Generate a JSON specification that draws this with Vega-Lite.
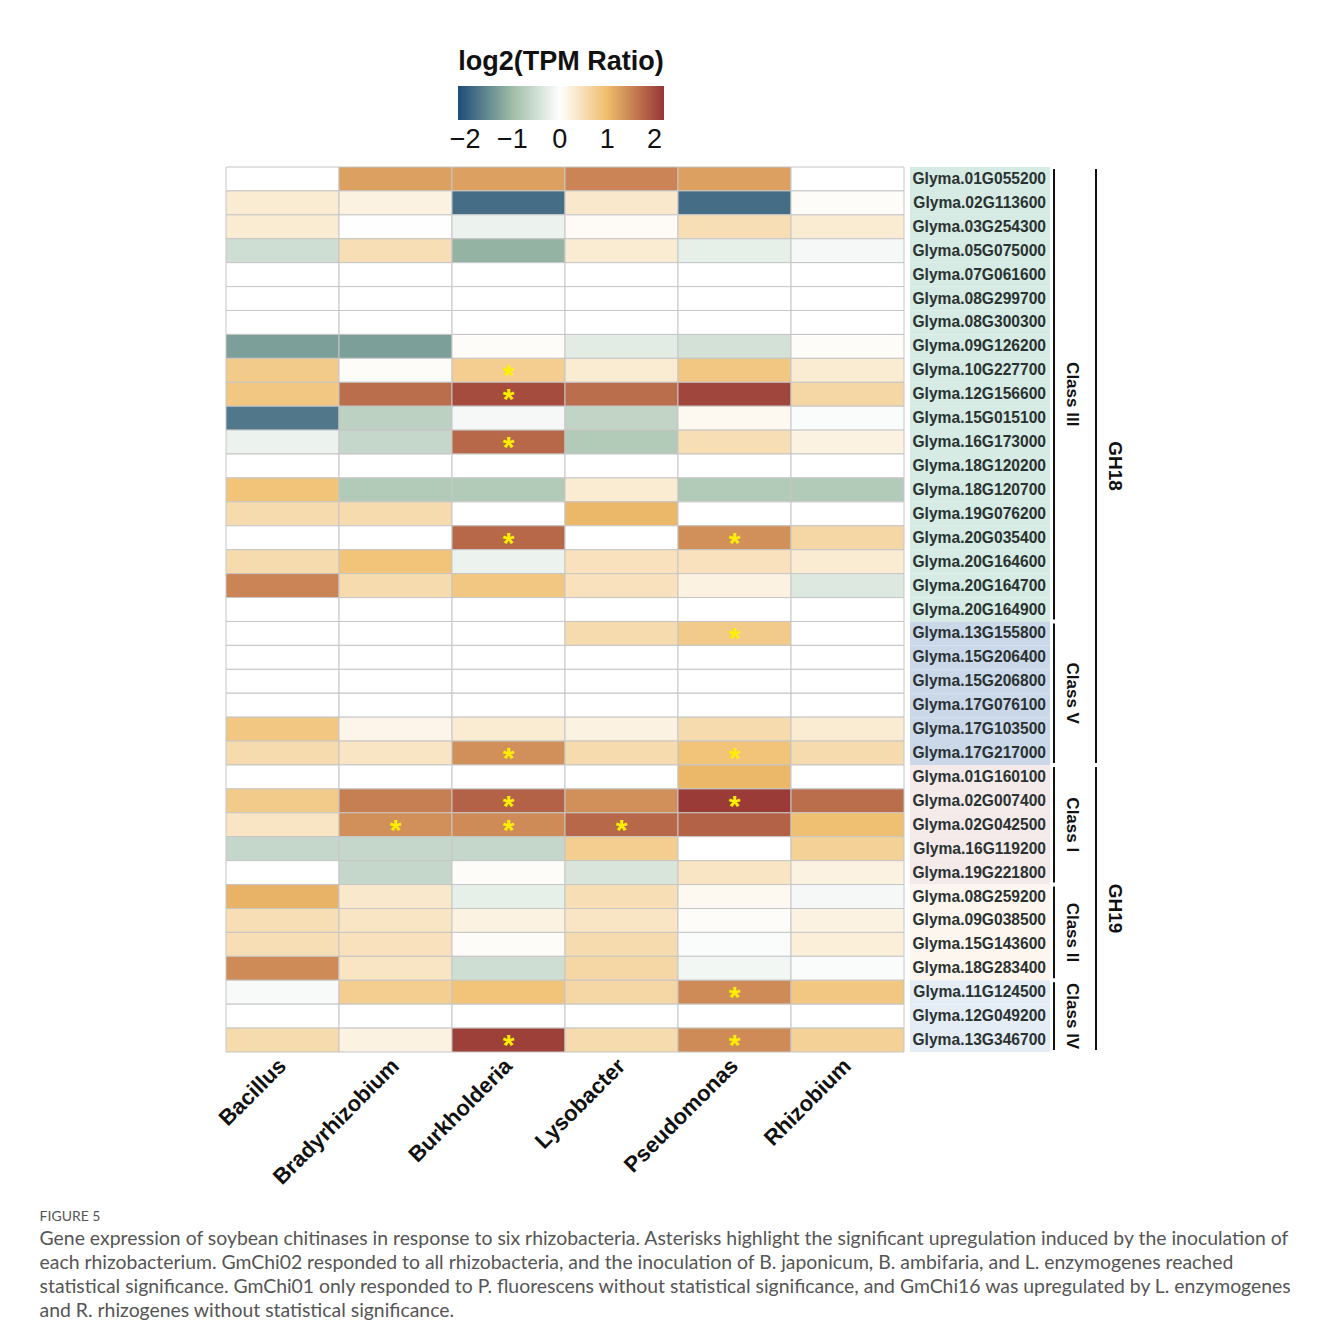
{
  "$schema": "https://vega.github.io/schema/vega-lite/v6.json",
  "padding": {"left": 39, "top": 49, "right": 10, "bottom": 20},
  "background": "#ffffff",
  "config": {"view": {"stroke": null}, "font": "Liberation Sans"},
  "title": {
    "text": "FIGURE 5",
    "orient": "bottom",
    "anchor": "start",
    "dx": -175,
    "offset": 22,
    "font": "Lato",
    "fontSize": 14,
    "fontWeight": "normal",
    "color": "#555555",
    "subtitle": [
      "Gene expression of soybean chitinases in response to six rhizobacteria. Asterisks highlight the significant upregulation induced by the inoculation of",
      "each rhizobacterium. GmChi02 responded to all rhizobacteria, and the inoculation of B. japonicum, B. ambifaria, and L. enzymogenes reached",
      "statistical significance. GmChi01 only responded to P. fluorescens without statistical significance, and GmChi16 was upregulated by L. enzymogenes",
      "and R. rhizogenes without statistical significance."
    ],
    "subtitleFont": "Lato",
    "subtitleFontSize": 19.4,
    "subtitleColor": "#555555",
    "subtitleLineHeight": 24,
    "subtitlePadding": 6,
    "limit": 1300
  },
  "datasets": {
    "expr": [
      {"gene": "Glyma.01G055200", "cls": "III", "Bacillus": 0, "Bradyrhizobium": 1.25, "Burkholderia": 1.25, "Lysobacter": 1.5, "Pseudomonas": 1.25, "Rhizobium": 0},
      {"gene": "Glyma.02G113600", "cls": "III", "Bacillus": 0.3, "Bradyrhizobium": 0.2, "Burkholderia": -1.8, "Lysobacter": 0.35, "Pseudomonas": -1.8, "Rhizobium": 0.05},
      {"gene": "Glyma.03G254300", "cls": "III", "Bacillus": 0.3, "Bradyrhizobium": -0.02, "Burkholderia": -0.2, "Lysobacter": 0.07, "Pseudomonas": 0.5, "Rhizobium": 0.3},
      {"gene": "Glyma.05G075000", "cls": "III", "Bacillus": -0.5, "Bradyrhizobium": 0.5, "Burkholderia": -1.1, "Lysobacter": 0.3, "Pseudomonas": -0.25, "Rhizobium": -0.1},
      {"gene": "Glyma.07G061600", "cls": "III", "Bacillus": 0, "Bradyrhizobium": 0, "Burkholderia": 0, "Lysobacter": 0, "Pseudomonas": 0, "Rhizobium": 0},
      {"gene": "Glyma.08G299700", "cls": "III", "Bacillus": 0, "Bradyrhizobium": 0, "Burkholderia": 0, "Lysobacter": 0, "Pseudomonas": 0, "Rhizobium": 0},
      {"gene": "Glyma.08G300300", "cls": "III", "Bacillus": 0, "Bradyrhizobium": 0, "Burkholderia": 0, "Lysobacter": 0, "Pseudomonas": 0, "Rhizobium": 0},
      {"gene": "Glyma.09G126200", "cls": "III", "Bacillus": -1.3, "Bradyrhizobium": -1.3, "Burkholderia": 0.05, "Lysobacter": -0.3, "Pseudomonas": -0.45, "Rhizobium": 0.05},
      {"gene": "Glyma.10G227700", "cls": "III", "Bacillus": 0.8, "Bradyrhizobium": 0.05, "Burkholderia": 0.75, "Lysobacter": 0.3, "Pseudomonas": 0.85, "Rhizobium": 0.3},
      {"gene": "Glyma.12G156600", "cls": "III", "Bacillus": 0.85, "Bradyrhizobium": 1.7, "Burkholderia": 2.0, "Lysobacter": 1.7, "Pseudomonas": 2.05, "Rhizobium": 0.6},
      {"gene": "Glyma.15G015100", "cls": "III", "Bacillus": -1.7, "Bradyrhizobium": -0.7, "Burkholderia": -0.1, "Lysobacter": -0.65, "Pseudomonas": 0.1, "Rhizobium": -0.05},
      {"gene": "Glyma.16G173000", "cls": "III", "Bacillus": -0.2, "Bradyrhizobium": -0.6, "Burkholderia": 1.75, "Lysobacter": -0.8, "Pseudomonas": 0.5, "Rhizobium": 0.2},
      {"gene": "Glyma.18G120200", "cls": "III", "Bacillus": 0, "Bradyrhizobium": 0, "Burkholderia": 0, "Lysobacter": 0, "Pseudomonas": 0, "Rhizobium": 0},
      {"gene": "Glyma.18G120700", "cls": "III", "Bacillus": 0.9, "Bradyrhizobium": -0.8, "Burkholderia": -0.8, "Lysobacter": 0.3, "Pseudomonas": -0.8, "Rhizobium": -0.8},
      {"gene": "Glyma.19G076200", "cls": "III", "Bacillus": 0.55, "Bradyrhizobium": 0.55, "Burkholderia": 0, "Lysobacter": 1.05, "Pseudomonas": 0, "Rhizobium": 0},
      {"gene": "Glyma.20G035400", "cls": "III", "Bacillus": 0, "Bradyrhizobium": 0, "Burkholderia": 1.75, "Lysobacter": 0, "Pseudomonas": 1.4, "Rhizobium": 0.6},
      {"gene": "Glyma.20G164600", "cls": "III", "Bacillus": 0.55, "Bradyrhizobium": 0.9, "Burkholderia": -0.2, "Lysobacter": 0.45, "Pseudomonas": 0.45, "Rhizobium": 0.3},
      {"gene": "Glyma.20G164700", "cls": "III", "Bacillus": 1.5, "Bradyrhizobium": 0.55, "Burkholderia": 0.85, "Lysobacter": 0.45, "Pseudomonas": 0.2, "Rhizobium": -0.35},
      {"gene": "Glyma.20G164900", "cls": "III", "Bacillus": 0, "Bradyrhizobium": 0, "Burkholderia": 0, "Lysobacter": 0, "Pseudomonas": 0, "Rhizobium": 0},
      {"gene": "Glyma.13G155800", "cls": "V", "Bacillus": 0, "Bradyrhizobium": 0, "Burkholderia": 0, "Lysobacter": 0.55, "Pseudomonas": 0.8, "Rhizobium": 0},
      {"gene": "Glyma.15G206400", "cls": "V", "Bacillus": 0, "Bradyrhizobium": 0, "Burkholderia": 0, "Lysobacter": 0, "Pseudomonas": 0, "Rhizobium": 0},
      {"gene": "Glyma.15G206800", "cls": "V", "Bacillus": 0, "Bradyrhizobium": 0, "Burkholderia": 0, "Lysobacter": 0, "Pseudomonas": 0, "Rhizobium": 0},
      {"gene": "Glyma.17G076100", "cls": "V", "Bacillus": 0, "Bradyrhizobium": 0, "Burkholderia": 0, "Lysobacter": 0, "Pseudomonas": 0, "Rhizobium": 0},
      {"gene": "Glyma.17G103500", "cls": "V", "Bacillus": 0.85, "Bradyrhizobium": 0.15, "Burkholderia": 0.3, "Lysobacter": 0.2, "Pseudomonas": 0.55, "Rhizobium": 0.3},
      {"gene": "Glyma.17G217000", "cls": "V", "Bacillus": 0.55, "Bradyrhizobium": 0.4, "Burkholderia": 1.4, "Lysobacter": 0.55, "Pseudomonas": 0.9, "Rhizobium": 0.55},
      {"gene": "Glyma.01G160100", "cls": "I", "Bacillus": 0, "Bradyrhizobium": 0, "Burkholderia": 0, "Lysobacter": 0, "Pseudomonas": 1.05, "Rhizobium": 0},
      {"gene": "Glyma.02G007400", "cls": "I", "Bacillus": 0.8, "Bradyrhizobium": 1.55, "Burkholderia": 1.8, "Lysobacter": 1.4, "Pseudomonas": 2.15, "Rhizobium": 1.7},
      {"gene": "Glyma.02G042500", "cls": "I", "Bacillus": 0.4, "Bradyrhizobium": 1.4, "Burkholderia": 1.45, "Lysobacter": 1.75, "Pseudomonas": 1.8, "Rhizobium": 0.95},
      {"gene": "Glyma.16G119200", "cls": "I", "Bacillus": -0.6, "Bradyrhizobium": -0.6, "Burkholderia": -0.6, "Lysobacter": 0.75, "Pseudomonas": 0, "Rhizobium": 0.7},
      {"gene": "Glyma.19G221800", "cls": "I", "Bacillus": 0, "Bradyrhizobium": -0.6, "Burkholderia": 0.05, "Lysobacter": -0.4, "Pseudomonas": 0.4, "Rhizobium": 0.2},
      {"gene": "Glyma.08G259200", "cls": "II", "Bacillus": 1.1, "Bradyrhizobium": 0.35, "Burkholderia": -0.25, "Lysobacter": 0.5, "Pseudomonas": 0.1, "Rhizobium": -0.1},
      {"gene": "Glyma.09G038500", "cls": "II", "Bacillus": 0.5, "Bradyrhizobium": 0.4, "Burkholderia": 0.2, "Lysobacter": 0.4, "Pseudomonas": 0.05, "Rhizobium": 0.2},
      {"gene": "Glyma.15G143600", "cls": "II", "Bacillus": 0.5, "Bradyrhizobium": 0.45, "Burkholderia": 0.05, "Lysobacter": 0.55, "Pseudomonas": -0.05, "Rhizobium": 0.25},
      {"gene": "Glyma.18G283400", "cls": "II", "Bacillus": 1.45, "Bradyrhizobium": 0.4, "Burkholderia": -0.5, "Lysobacter": 0.6, "Pseudomonas": -0.12, "Rhizobium": -0.05},
      {"gene": "Glyma.11G124500", "cls": "IV", "Bacillus": -0.07, "Bradyrhizobium": 0.75, "Burkholderia": 0.9, "Lysobacter": 0.6, "Pseudomonas": 1.45, "Rhizobium": 0.85},
      {"gene": "Glyma.12G049200", "cls": "IV", "Bacillus": 0, "Bradyrhizobium": 0, "Burkholderia": 0, "Lysobacter": 0, "Pseudomonas": 0, "Rhizobium": 0},
      {"gene": "Glyma.13G346700", "cls": "IV", "Bacillus": 0.55, "Bradyrhizobium": 0.2, "Burkholderia": 2.1, "Lysobacter": 0.55, "Pseudomonas": 1.45, "Rhizobium": 0.7}
    ],
    "sig": [
      {"gene": "Glyma.10G227700", "bacterium": "Burkholderia"},
      {"gene": "Glyma.12G156600", "bacterium": "Burkholderia"},
      {"gene": "Glyma.16G173000", "bacterium": "Burkholderia"},
      {"gene": "Glyma.20G035400", "bacterium": "Burkholderia"},
      {"gene": "Glyma.20G035400", "bacterium": "Pseudomonas"},
      {"gene": "Glyma.13G155800", "bacterium": "Pseudomonas"},
      {"gene": "Glyma.17G217000", "bacterium": "Burkholderia"},
      {"gene": "Glyma.17G217000", "bacterium": "Pseudomonas"},
      {"gene": "Glyma.02G007400", "bacterium": "Burkholderia"},
      {"gene": "Glyma.02G007400", "bacterium": "Pseudomonas"},
      {"gene": "Glyma.02G042500", "bacterium": "Bradyrhizobium"},
      {"gene": "Glyma.02G042500", "bacterium": "Burkholderia"},
      {"gene": "Glyma.02G042500", "bacterium": "Lysobacter"},
      {"gene": "Glyma.11G124500", "bacterium": "Pseudomonas"},
      {"gene": "Glyma.13G346700", "bacterium": "Burkholderia"},
      {"gene": "Glyma.13G346700", "bacterium": "Pseudomonas"}
    ],
    "brackets": [
      {"name": "Class III", "level": "class", "first": "Glyma.01G055200", "last": "Glyma.20G164900", "mid": "Glyma.12G156600", "n": 19},
      {"name": "Class V", "level": "class", "first": "Glyma.13G155800", "last": "Glyma.17G217000", "mid": "Glyma.17G076100", "n": 6},
      {"name": "Class I", "level": "class", "first": "Glyma.01G160100", "last": "Glyma.19G221800", "mid": "Glyma.02G042500", "n": 5},
      {"name": "Class II", "level": "class", "first": "Glyma.08G259200", "last": "Glyma.18G283400", "mid": "Glyma.15G143600", "n": 4},
      {"name": "Class IV", "level": "class", "first": "Glyma.11G124500", "last": "Glyma.13G346700", "mid": "Glyma.12G049200", "n": 3},
      {"name": "GH18", "level": "group", "first": "Glyma.01G055200", "last": "Glyma.17G217000", "mid": "Glyma.18G120200", "n": 25},
      {"name": "GH19", "level": "group", "first": "Glyma.01G160100", "last": "Glyma.13G346700", "mid": "Glyma.09G038500", "n": 12}
    ]
  },
  "hconcat": [
    {
      "width": 678,
      "height": 885,
      "layer": [
        {
          "data": {"name": "expr"},
          "transform": [{"fold": ["Bacillus", "Bradyrhizobium", "Burkholderia", "Lysobacter", "Pseudomonas", "Rhizobium"], "as": ["bacterium", "value"]}],
          "mark": {"type": "rect", "stroke": "#c6c6c6", "strokeWidth": 1},
          "encoding": {
            "x": {"field": "bacterium", "type": "nominal", "sort": ["Bacillus", "Bradyrhizobium", "Burkholderia", "Lysobacter", "Pseudomonas", "Rhizobium"],
              "scale": {"paddingInner": 0, "paddingOuter": 0},
              "axis": {"title": null, "ticks": false, "domain": false, "labelAngle": -45, "labelAlign": "right", "labelBaseline": "middle", "labelPadding": 10, "labelFontSize": 22, "labelFontWeight": "bold", "labelColor": "#111111", "labelFont": "Liberation Sans"}},
            "y": {"field": "gene", "type": "nominal", "sort": null, "scale": {"paddingInner": 0, "paddingOuter": 0}, "axis": null},
            "color": {"field": "value", "type": "quantitative",
              "scale": {"domain": [-2.15, -1, 0, 1, 2.2], "range": ["#1d4b78", "#9fbda6", "#ffffff", "#efbd6b", "#963535"], "interpolate": "rgb"},
              "legend": {"title": "log2(TPM Ratio)", "orient": "none", "legendX": 232, "legendY": -118, "direction": "horizontal",
                "gradientLength": 206, "gradientThickness": 34, "gradientStrokeWidth": 0,
                "values": [-2, -1, 0, 1, 2], "labelFontSize": 27, "labelFont": "Liberation Sans", "labelColor": "#111111", "labelOffset": 7,
                "titleFontSize": 27, "titleFont": "Liberation Sans", "titleFontWeight": "bold", "titleColor": "#111111", "titleAnchor": "middle", "titlePadding": 10, "titleLimit": 500}}
          }
        },
        {
          "data": {"name": "sig"},
          "mark": {"type": "text", "text": "*", "color": "#ffee00", "fontSize": 30, "fontWeight": "bold", "baseline": "middle", "align": "center", "dy": 6},
          "encoding": {
            "x": {"field": "bacterium", "type": "nominal", "sort": ["Bacillus", "Bradyrhizobium", "Burkholderia", "Lysobacter", "Pseudomonas", "Rhizobium"]},
            "y": {"field": "gene", "type": "nominal", "sort": null}
          }
        }
      ]
    },
    {
      "width": 217,
      "height": 885,
      "layer": [
        {
          "data": {"name": "expr"},
          "mark": {"type": "rect"},
          "encoding": {
            "x": {"datum": 0, "type": "quantitative", "scale": {"domain": [0, 217], "nice": false, "zero": false}, "axis": null},
            "x2": {"datum": 140},
            "y": {"field": "gene", "type": "nominal", "sort": null, "scale": {"paddingInner": 0, "paddingOuter": 0}, "axis": null},
            "fill": {"field": "cls", "type": "nominal", "scale": {"domain": ["III", "V", "I", "II", "IV"], "range": ["#d5ebe3", "#cbd8e9", "#f4eaea", "#fcf6ee", "#e4ecf6"]}, "legend": null}
          }
        },
        {
          "data": {"name": "expr"},
          "mark": {"type": "text", "align": "right", "baseline": "middle", "dx": -4, "fontSize": 15.6, "fontWeight": "bold", "font": "Liberation Sans", "color": "#2a3231"},
          "encoding": {
            "x": {"datum": 140, "type": "quantitative"},
            "y": {"field": "gene", "type": "nominal", "sort": null},
            "text": {"field": "gene"}
          }
        },
        {
          "data": {"name": "brackets"},
          "transform": [{"filter": "datum.level == 'class'"}],
          "mark": {"type": "rule", "color": "#111111", "strokeWidth": 2, "yOffset": 2, "y2Offset": -2},
          "encoding": {
            "x": {"datum": 144, "type": "quantitative"},
            "y": {"field": "first", "type": "nominal", "sort": null, "bandPosition": 0},
            "y2": {"field": "last", "bandPosition": 1}
          }
        },
        {
          "data": {"name": "brackets"},
          "transform": [{"filter": "datum.level == 'group'"}],
          "mark": {"type": "rule", "color": "#111111", "strokeWidth": 2, "yOffset": 2, "y2Offset": -2},
          "encoding": {
            "x": {"datum": 186, "type": "quantitative"},
            "y": {"field": "first", "type": "nominal", "sort": null, "bandPosition": 0},
            "y2": {"field": "last", "bandPosition": 1}
          }
        },
        {
          "data": {"name": "brackets"},
          "transform": [{"filter": "datum.level == 'class' && datum.n % 2 == 1"}],
          "mark": {"type": "text", "angle": 90, "align": "center", "baseline": "middle", "fontSize": 17, "fontWeight": "bold", "color": "#111111"},
          "encoding": {
            "x": {"datum": 162, "type": "quantitative"},
            "y": {"field": "mid", "type": "nominal", "sort": null, "bandPosition": 0.5},
            "text": {"field": "name"}
          }
        },
        {
          "data": {"name": "brackets"},
          "transform": [{"filter": "datum.level == 'class' && datum.n % 2 == 0"}],
          "mark": {"type": "text", "angle": 90, "align": "center", "baseline": "middle", "fontSize": 17, "fontWeight": "bold", "color": "#111111"},
          "encoding": {
            "x": {"datum": 162, "type": "quantitative"},
            "y": {"field": "mid", "type": "nominal", "sort": null, "bandPosition": 0},
            "text": {"field": "name"}
          }
        },
        {
          "data": {"name": "brackets"},
          "transform": [{"filter": "datum.level == 'group' && datum.n % 2 == 1"}],
          "mark": {"type": "text", "angle": 90, "align": "center", "baseline": "middle", "fontSize": 19, "fontWeight": "bold", "color": "#111111"},
          "encoding": {
            "x": {"datum": 205, "type": "quantitative"},
            "y": {"field": "mid", "type": "nominal", "sort": null, "bandPosition": 0.5},
            "text": {"field": "name"}
          }
        },
        {
          "data": {"name": "brackets"},
          "transform": [{"filter": "datum.level == 'group' && datum.n % 2 == 0"}],
          "mark": {"type": "text", "angle": 90, "align": "center", "baseline": "middle", "fontSize": 19, "fontWeight": "bold", "color": "#111111"},
          "encoding": {
            "x": {"datum": 205, "type": "quantitative"},
            "y": {"field": "mid", "type": "nominal", "sort": null, "bandPosition": 0},
            "text": {"field": "name"}
          }
        }
      ]
    }
  ],
  "spacing": 5,
  "resolve": {"scale": {"y": "shared"}}
}
